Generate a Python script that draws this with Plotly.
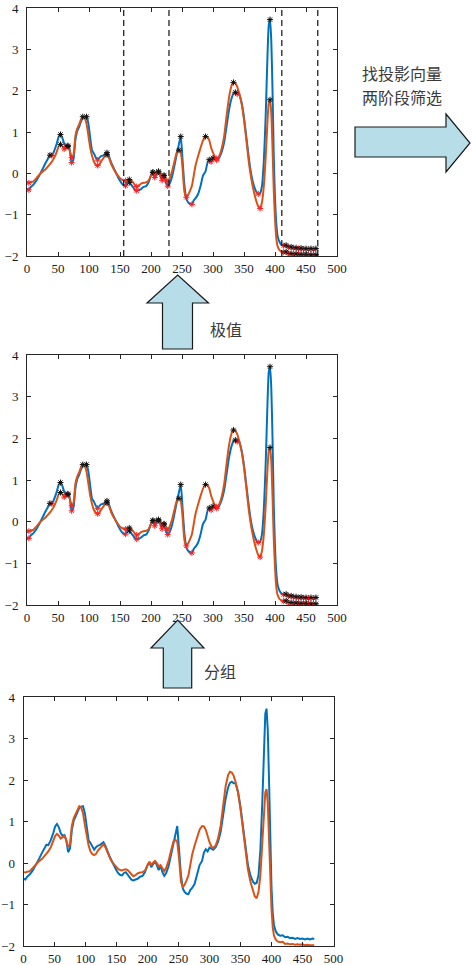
import numpy as np
import plotly.graph_objects as go

# ---------------- data ----------------
x_idx = [0, 3, 6, 10, 15, 20, 25, 30, 34, 37, 40, 44, 48, 51, 54, 57, 60, 63, 66, 69,
         72, 75, 78, 81, 84, 87, 90, 93, 96, 99, 102, 105, 108, 111, 114, 117, 120, 123,
         126, 129, 132, 136, 140, 144, 147, 150, 153, 156, 159, 162, 165, 168, 171, 174,
         177, 180, 184, 188, 192, 196, 200, 203, 206, 209, 212, 215, 218, 221, 224, 227,
         230, 234, 238, 242, 245, 248, 251, 254, 257, 260, 263, 266, 269, 272, 276, 280,
         284, 288, 291, 294, 297, 300, 303, 306, 310, 314, 318, 322, 326, 330, 333, 336,
         339, 342, 346, 350, 354, 358, 362, 366, 370, 373, 376, 379, 382, 385, 388, 390,
         392, 394, 396, 398, 400, 402, 404, 407, 410, 414, 418, 422, 426, 430, 434, 438,
         442, 446, 450, 454, 458, 462, 466, 469]

blue_vals = [-0.38, -0.40, -0.33, -0.28, -0.18, -0.05, 0.10, 0.25, 0.36, 0.44, 0.43, 0.55,
             0.72, 0.88, 0.94, 0.86, 0.72, 0.65, 0.67, 0.55, 0.26, 0.35, 0.80, 1.02, 1.12,
             1.25, 1.33, 1.36, 1.37, 1.20, 0.85, 0.55, 0.48, 0.38, 0.32, 0.38, 0.42, 0.43,
             0.47, 0.50, 0.42, 0.25, 0.12, 0.00, -0.10, -0.18, -0.25, -0.29, -0.30, -0.24,
             -0.22, -0.28, -0.33, -0.40, -0.42, -0.41, -0.38, -0.33, -0.31, -0.22, -0.05,
             0.02, -0.10, -0.03, 0.03, -0.05, -0.17, -0.06, -0.22, -0.31, -0.25, -0.08,
             0.20, 0.50, 0.70, 0.89, 0.30, -0.30, -0.62, -0.70, -0.74, -0.75, -0.65, -0.60,
             -0.50, -0.30, -0.05, 0.05, 0.25, 0.33, 0.28, 0.37, 0.35, 0.32, 0.38, 0.52,
             0.75, 1.15, 1.55, 1.82, 1.93, 1.96, 1.92, 1.92, 1.72, 1.35, 0.85, 0.35, -0.05,
             -0.30, -0.45, -0.50, -0.48, -0.30, 0.30, 1.40, 2.90, 3.60, 3.72, 3.20, 2.00,
             0.40, -0.60, -1.20, -1.50, -1.65, -1.72, -1.75, -1.74, -1.79, -1.78, -1.81,
             -1.80, -1.83, -1.81, -1.83, -1.82, -1.84, -1.82, -1.84, -1.82, -1.83]

orange_vals = [-0.22, -0.23, -0.21, -0.20, -0.12, -0.03, 0.04, 0.10, 0.17, 0.22, 0.28, 0.38,
               0.52, 0.65, 0.70, 0.66, 0.59, 0.62, 0.65, 0.55, 0.38, 0.45, 0.90, 1.08, 1.18,
               1.30, 1.37, 1.34, 1.20, 0.92, 0.62, 0.42, 0.28, 0.21, 0.19, 0.22, 0.30, 0.36,
               0.42, 0.45, 0.38, 0.22, 0.10, 0.00, -0.06, -0.12, -0.15, -0.17, -0.18, -0.16,
               -0.15, -0.17, -0.22, -0.28, -0.32, -0.30, -0.25, -0.23, -0.22, -0.18, -0.05,
               0.03, -0.04, 0.02, 0.05, 0.00, -0.08, -0.05, -0.12, -0.20, -0.12, 0.05,
               0.30, 0.52, 0.56, 0.50, 0.10, -0.45, -0.58, -0.52, -0.42, -0.30, -0.05, 0.20,
               0.42, 0.62, 0.80, 0.89, 0.88, 0.80, 0.62, 0.50, 0.40, 0.36, 0.42, 0.60,
               0.90, 1.40, 1.85, 2.12, 2.20, 2.18, 2.10, 1.95, 1.70, 1.30, 0.78, 0.25, -0.15,
               -0.45, -0.68, -0.80, -0.85, -0.70, -0.30, 0.40, 1.30, 1.70, 1.78, 1.45, 0.60,
               -0.40, -1.10, -1.55, -1.75, -1.85, -1.89, -1.91, -1.90, -1.95, -1.94, -1.96,
               -1.95, -1.97, -1.96, -1.97, -1.96, -1.98, -1.97, -1.98, -1.97, -1.98]

split_positions = [156, 229, 411, 469]
x_ticks = [0, 50, 100, 150, 200, 250, 300, 350, 400, 450, 500]
y_ticks = [-2, -1, 0, 1, 2, 3, 4]

label_top = ["找投影向量", "两阶段筛选"]
label_extrema = "极值"
label_group = "分组"

BLUE = "#0072BD"
ORANGE = "#D95319"
W, H = 472, 965


def extrema(vals):
    v = np.asarray(vals)
    mx = [i for i in range(1, len(v) - 1) if v[i] > v[i - 1] and v[i] >= v[i + 1]]
    mn = [i for i in range(1, len(v) - 1) if v[i] < v[i - 1] and v[i] <= v[i + 1]]
    return mx, mn


fig = go.Figure()


def px(x):
    return x / W


def py(y):
    return 1 - y / H


panels = [
    dict(xd=[27, 337], yd=[8, 256], smooth=True, marks=True),   # top
    dict(xd=[27, 337], yd=[355, 605], smooth=True, marks=True),  # middle
    dict(xd=[23.5, 333.5], yd=[697, 946], smooth=False, marks=False),  # bottom
]

axis_common = dict(showgrid=False, zeroline=False, showline=True, mirror="allticks",
                   ticks="inside", ticklen=4, tickwidth=1, linecolor="#262626",
                   tickcolor="#262626", linewidth=1, automargin=False,
                   tickfont=dict(family="Liberation Serif", size=13, color="#1a1a1a"))

for k, p in enumerate(panels):
    sfx = "" if k == 0 else str(k + 1)
    xa, ya = "x" + sfx, "y" + sfx
    shape = "spline" if p["smooth"] else "linear"
    for vals, col in [(blue_vals, BLUE), (orange_vals, ORANGE)]:
        fig.add_trace(go.Scatter(x=x_idx, y=vals, mode="lines", xaxis=xa, yaxis=ya,
                                 line=dict(color=col, width=2, shape=shape, smoothing=0.6),
                                 showlegend=False, hoverinfo="skip"))
    if p["marks"]:
        for vals in (blue_vals, orange_vals):
            mx, mn = extrema(vals)
            fig.add_trace(go.Scatter(x=[x_idx[i] for i in mn], y=[vals[i] for i in mn],
                                     mode="markers", xaxis=xa, yaxis=ya, showlegend=False,
                                     marker=dict(symbol="asterisk-open", size=5, color="#FF2020",
                                                 line=dict(color="#FF2020", width=1))))
            fig.add_trace(go.Scatter(x=[x_idx[i] for i in mx], y=[vals[i] for i in mx],
                                     mode="markers", xaxis=xa, yaxis=ya, showlegend=False,
                                     marker=dict(symbol="asterisk-open", size=5, color="#111111",
                                                 line=dict(color="#111111", width=1))))
    fig.layout["xaxis" + sfx] = dict(axis_common, domain=[px(p["xd"][0]), px(p["xd"][1])],
                                     range=[0, 500], tickvals=x_ticks, anchor=ya)
    fig.layout["yaxis" + sfx] = dict(axis_common, domain=[py(p["yd"][1]), py(p["yd"][0])],
                                     range=[-2, 4], tickvals=y_ticks, anchor=xa,
                                     ticklabelstandoff=5)

shapes = []
for xs in split_positions:
    shapes.append(dict(type="line", xref="x", yref="y domain", x0=xs, x1=xs, y0=0, y1=1,
                       line=dict(color="#111111", width=1.2, dash="6px,4px")))


def poly(points):
    path = "M " + " L ".join(f"{px(a):.5f},{py(b):.5f}" for a, b in points) + " Z"
    return dict(type="path", xref="paper", yref="paper", path=path,
                fillcolor="#B7DDE8", line=dict(color="#1a1a1a", width=1.2))


# up arrow 1
shapes.append(poly([(162.5, 349), (192.5, 349), (192.5, 303), (208.5, 303), (177.7, 275),
                    (147, 303), (162.5, 303)]))
# up arrow 2
shapes.append(poly([(163.3, 688), (191.7, 688), (191.7, 648), (204, 648), (177.7, 620),
                    (151, 648), (163.3, 648)]))
# right arrow
shapes.append(poly([(355, 127), (446, 127), (446, 114), (470, 143), (446, 172), (446, 157),
                    (355, 157)]))

txt_font = dict(family="Noto Sans CJK SC", size=16, color="#3a3a3a")
annotations = [
    dict(x=px(402), y=py(73), text=label_top[0]),
    dict(x=px(402), y=py(97), text=label_top[1]),
    dict(x=px(226), y=py(329), text=label_extrema),
    dict(x=px(220), y=py(671), text=label_group),
]
for a in annotations:
    a.update(xref="paper", yref="paper", showarrow=False, xanchor="center",
             yanchor="middle", font=txt_font)

fig.update_layout(width=W, height=H, margin=dict(l=0, r=0, t=0, b=0),
                  paper_bgcolor="white", plot_bgcolor="white",
                  shapes=shapes, annotations=annotations, showlegend=False)

fig.write_html("out.html", config={"displayModeBar": False},
               post_script="document.body.style.margin='0px';"
                           "document.body.style.overflow='hidden';")
